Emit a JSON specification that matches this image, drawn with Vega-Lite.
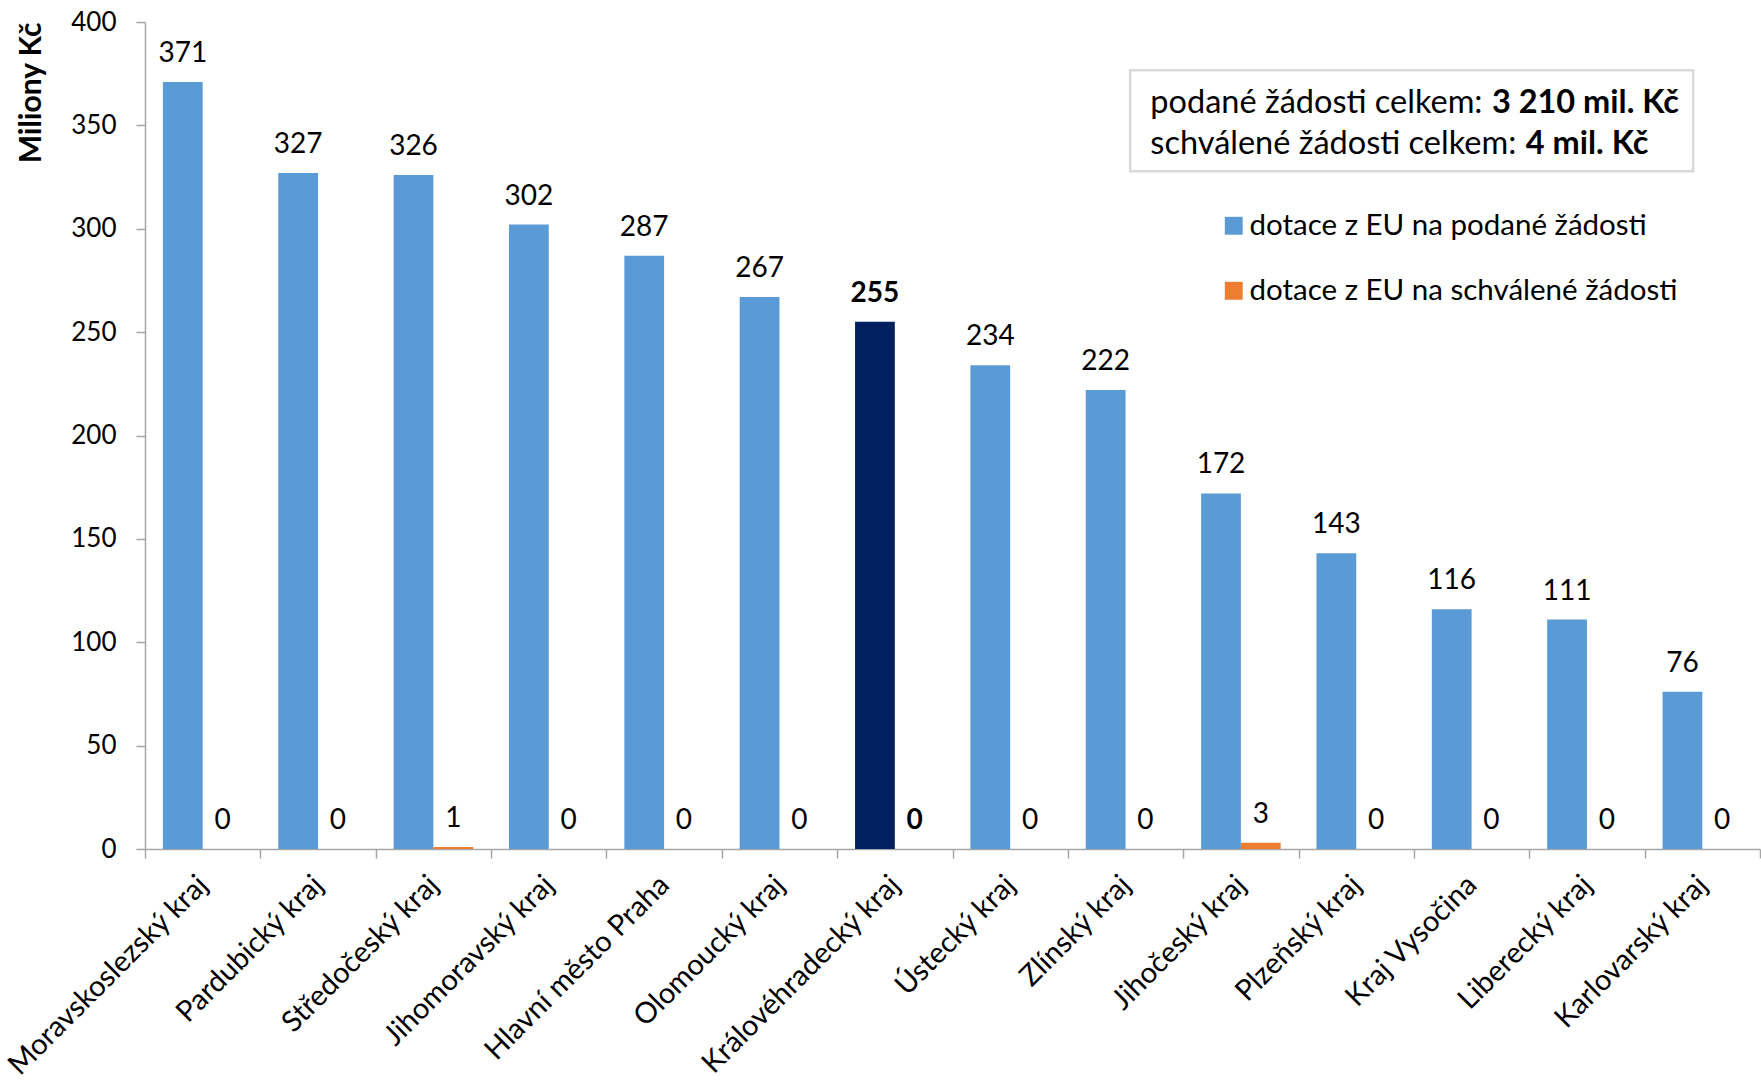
{
  "$schema": "https://vega.github.io/schema/vega-lite/v6.json",
  "width": 1761,
  "height": 827,
  "autosize": {"type": "fit-x", "contains": "padding"},
  "padding": {"left": 7, "top": 9, "right": 0, "bottom": 4},
  "background": "white",
  "config": {"font": "Lato", "view": {"stroke": null}},
  "datasets": {
    "kraje": [
      {"kraj": "Moravskoslezský kraj", "series": "dotace z EU na podané žádosti", "value": 371},
      {"kraj": "Moravskoslezský kraj", "series": "dotace z EU na schválené žádosti", "value": 0},
      {"kraj": "Pardubický kraj", "series": "dotace z EU na podané žádosti", "value": 327},
      {"kraj": "Pardubický kraj", "series": "dotace z EU na schválené žádosti", "value": 0},
      {"kraj": "Středočeský kraj", "series": "dotace z EU na podané žádosti", "value": 326},
      {"kraj": "Středočeský kraj", "series": "dotace z EU na schválené žádosti", "value": 1},
      {"kraj": "Jihomoravský kraj", "series": "dotace z EU na podané žádosti", "value": 302},
      {"kraj": "Jihomoravský kraj", "series": "dotace z EU na schválené žádosti", "value": 0},
      {"kraj": "Hlavní město Praha", "series": "dotace z EU na podané žádosti", "value": 287},
      {"kraj": "Hlavní město Praha", "series": "dotace z EU na schválené žádosti", "value": 0},
      {"kraj": "Olomoucký kraj", "series": "dotace z EU na podané žádosti", "value": 267},
      {"kraj": "Olomoucký kraj", "series": "dotace z EU na schválené žádosti", "value": 0},
      {"kraj": "Královéhradecký kraj", "series": "dotace z EU na podané žádosti", "value": 255},
      {"kraj": "Královéhradecký kraj", "series": "dotace z EU na schválené žádosti", "value": 0},
      {"kraj": "Ústecký kraj", "series": "dotace z EU na podané žádosti", "value": 234},
      {"kraj": "Ústecký kraj", "series": "dotace z EU na schválené žádosti", "value": 0},
      {"kraj": "Zlínský kraj", "series": "dotace z EU na podané žádosti", "value": 222},
      {"kraj": "Zlínský kraj", "series": "dotace z EU na schválené žádosti", "value": 0},
      {"kraj": "Jihočeský kraj", "series": "dotace z EU na podané žádosti", "value": 172},
      {"kraj": "Jihočeský kraj", "series": "dotace z EU na schválené žádosti", "value": 3},
      {"kraj": "Plzeňský kraj", "series": "dotace z EU na podané žádosti", "value": 143},
      {"kraj": "Plzeňský kraj", "series": "dotace z EU na schválené žádosti", "value": 0},
      {"kraj": "Kraj Vysočina", "series": "dotace z EU na podané žádosti", "value": 116},
      {"kraj": "Kraj Vysočina", "series": "dotace z EU na schválené žádosti", "value": 0},
      {"kraj": "Liberecký kraj", "series": "dotace z EU na podané žádosti", "value": 111},
      {"kraj": "Liberecký kraj", "series": "dotace z EU na schválené žádosti", "value": 0},
      {"kraj": "Karlovarský kraj", "series": "dotace z EU na podané žádosti", "value": 76},
      {"kraj": "Karlovarský kraj", "series": "dotace z EU na schválené žádosti", "value": 0}
    ],
    "box": [{"x": 0.61, "x2": 0.9586, "y": 0.9417, "y2": 0.8194}],
    "boxtext": [
      {"x": 0.6225, "y": 0.9026, "t": "podané žádosti celkem:", "b": 0},
      {"x": 0.834, "y": 0.9026, "t": "3 210 mil. Kč", "b": 1},
      {"x": 0.6225, "y": 0.853, "t": "schválené žádosti celkem:", "b": 0},
      {"x": 0.855, "y": 0.853, "t": "4 mil. Kč", "b": 1}
    ]
  },
  "layer": [
    {
      "data": {"name": "kraje"},
      "encoding": {
        "x": {
          "field": "kraj", "type": "nominal", "sort": null,
          "scale": {"paddingInner": 0, "paddingOuter": 0},
          "axis": {
            "title": null, "labelAngle": -45, "labelFontSize": 29, "labelColor": "#000000",
            "labelAlign": "right", "labelBaseline": "middle",
            "tickBand": "extent", "tickSize": 9, "tickColor": "#A6A6A6", "domainColor": "#A6A6A6",
            "domainWidth": 1.5, "tickWidth": 1.5, "labelPadding": 22, "labelOverlap": false, "labelLimit": 0
          }
        },
        "xOffset": {
          "field": "series", "type": "nominal",
          "scale": {"paddingInner": 0, "paddingOuter": 0.45}
        },
        "y": {
          "field": "value", "type": "quantitative",
          "scale": {"domain": [0, 400], "nice": false},
          "axis": {
            "title": "Miliony Kč", "titleFontSize": 30, "titleFontWeight": "bold", "titleColor": "#000000",
            "titleAnchor": "end", "titlePadding": 24,
            "values": [0, 50, 100, 150, 200, 250, 300, 350, 400],
            "labelFontSize": 26, "labelColor": "#000000", "labelPadding": 20,
            "grid": false, "tickSize": 9, "tickColor": "#A6A6A6", "domainColor": "#A6A6A6",
            "domainWidth": 1.5, "tickWidth": 1.5
          }
        }
      },
      "layer": [
        {
          "mark": {"type": "bar"},
          "encoding": {
            "color": {
              "condition": {
                "test": "datum.kraj === 'Královéhradecký kraj' && datum.series === 'dotace z EU na podané žádosti'",
                "value": "#002060"
              },
              "field": "series", "type": "nominal",
              "scale": {
                "domain": ["dotace z EU na podané žádosti", "dotace z EU na schválené žádosti"],
                "range": ["#5B9BD5", "#ED7D31"]
              },
              "legend": {
                "title": null, "orient": "none", "legendX": 1074, "legendY": 189,
                "direction": "vertical", "symbolType": "square", "symbolSize": 320,
                "symbolStrokeWidth": 0, "labelFontSize": 29.5, "labelColor": "#000000",
                "labelOffset": 1, "rowPadding": 34, "labelLimit": 0
              }
            }
          }
        },
        {
          "transform": [{"filter": "datum.kraj !== 'Královéhradecký kraj'"}],
          "mark": {"type": "text", "dy": -20, "baseline": "alphabetic", "fontSize": 28, "color": "#000000"},
          "encoding": {"text": {"field": "value", "type": "quantitative"}}
        },
        {
          "transform": [{"filter": "datum.kraj === 'Královéhradecký kraj'"}],
          "mark": {"type": "text", "dy": -20, "baseline": "alphabetic", "fontSize": 28, "fontWeight": "bold", "color": "#000000"},
          "encoding": {"text": {"field": "value", "type": "quantitative"}}
        }
      ]
    },
    {
      "layer": [
        {
          "data": {"name": "box"},
          "mark": {"type": "rect", "fill": "white", "stroke": "#D9D9D9", "strokeWidth": 2.5},
          "encoding": {
            "x": {"field": "x", "type": "quantitative", "scale": {"domain": [0, 1], "nice": false}, "axis": null},
            "x2": {"field": "x2"},
            "y": {"field": "y", "type": "quantitative", "scale": {"domain": [0, 1], "nice": false}, "axis": null},
            "y2": {"field": "y2"}
          }
        },
        {
          "data": {"name": "boxtext"},
          "transform": [{"filter": "datum.b === 0"}],
          "mark": {"type": "text", "align": "left", "baseline": "middle", "fontSize": 32.5, "color": "#000000"},
          "encoding": {
            "x": {"field": "x", "type": "quantitative"},
            "y": {"field": "y", "type": "quantitative"},
            "text": {"field": "t"}
          }
        },
        {
          "data": {"name": "boxtext"},
          "transform": [{"filter": "datum.b === 1"}],
          "mark": {"type": "text", "align": "left", "baseline": "middle", "fontSize": 32.5, "fontWeight": "bold", "color": "#000000"},
          "encoding": {
            "x": {"field": "x", "type": "quantitative"},
            "y": {"field": "y", "type": "quantitative"},
            "text": {"field": "t"}
          }
        }
      ]
    }
  ],
  "resolve": {"scale": {"x": "independent", "y": "independent"}}
}
